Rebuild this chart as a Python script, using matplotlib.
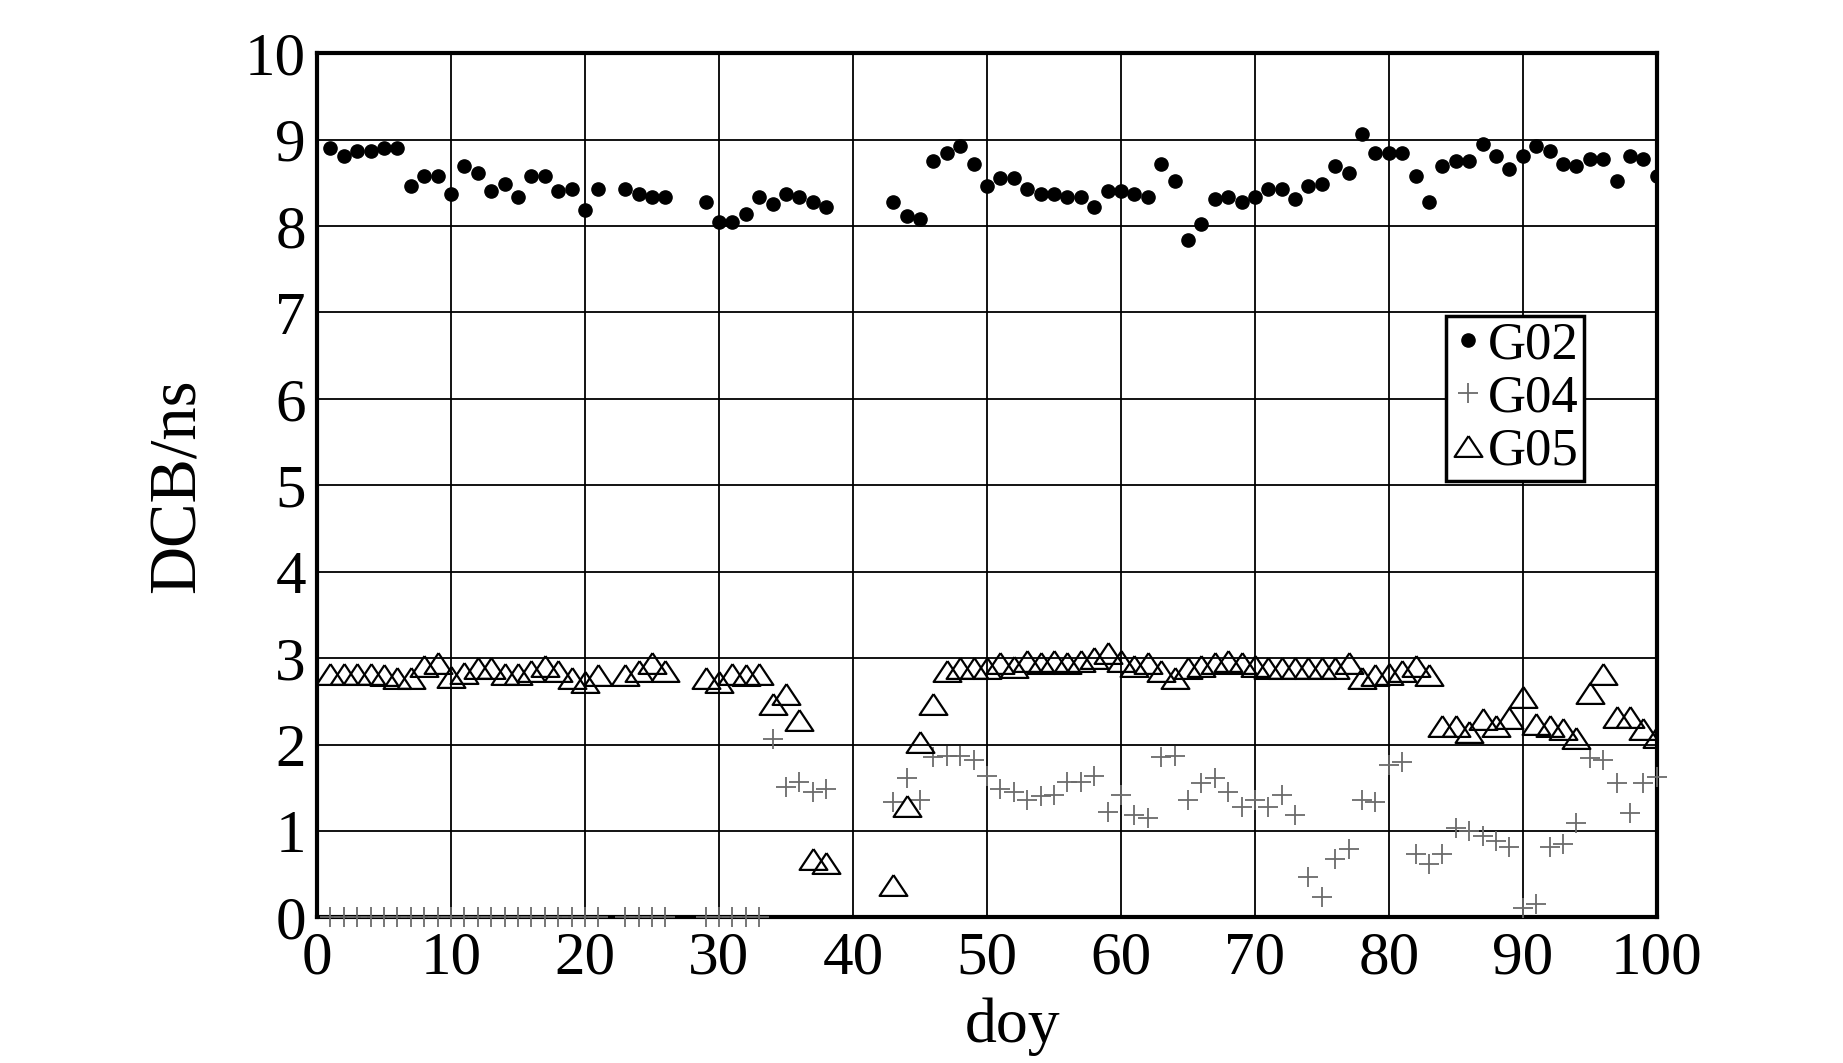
import numpy as np
import matplotlib
matplotlib.use("Agg")
import matplotlib.pyplot as plt

plt.rcParams['font.family'] = ['Liberation Serif', 'DejaVu Serif']

days = list(range(1, 22)) + list(range(23, 27)) + list(range(29, 39)) + list(range(43, 101))

g02 = [8.90, 8.81, 8.87, 8.87, 8.90, 8.90, 8.46, 8.58, 8.58, 8.37,
       8.69, 8.61, 8.40, 8.49, 8.34, 8.58, 8.58, 8.40, 8.43, 8.19, 8.43,
       8.43, 8.37, 8.34, 8.34,
       8.28, 8.05, 8.05, 8.14, 8.34, 8.25, 8.37, 8.34, 8.28, 8.22,
       8.28, 8.11, 8.08, 8.75, 8.84, 8.92, 8.72, 8.46, 8.55, 8.55,
       8.43, 8.37, 8.37, 8.34, 8.34, 8.22, 8.40, 8.40, 8.37, 8.34,
       8.72, 8.52, 7.84, 8.02, 8.31, 8.34, 8.28, 8.34, 8.43, 8.43,
       8.31, 8.46, 8.49, 8.69, 8.61, 9.07, 8.84, 8.84, 8.84, 8.58,
       8.28, 8.69, 8.75, 8.75, 8.95, 8.81, 8.66, 8.81, 8.92, 8.87,
       8.72, 8.69, 8.78, 8.78, 8.52, 8.81, 8.78, 8.58]

g04 = [0.0] * 21 + [0.0] * 4 + [0.0] * 5 + \
      [2.06, 1.51, 1.57, 1.45, 1.48,
       1.33, 1.61, 1.36, 1.85, 1.87, 1.87, 1.82, 1.64, 1.48, 1.45,
       1.36, 1.40, 1.42, 1.57, 1.57, 1.64, 1.22, 1.42, 1.19, 1.15,
       1.85, 1.87, 1.36, 1.55, 1.61, 1.45, 1.28, 1.36, 1.28, 1.42,
       1.18, 0.47, 0.24, 0.68, 0.79, 1.36, 1.34, 1.76, 1.80, 0.73,
       0.62, 0.73, 1.03, 1.00, 0.94, 0.88, 0.82, 0.11, 0.15, 0.82,
       0.85, 1.09, 1.84, 1.82, 1.55, 1.21, 1.55, 1.63]

g05 = [2.82, 2.82, 2.82, 2.82, 2.80, 2.77, 2.77, 2.91, 2.94, 2.78,
       2.83, 2.88, 2.88, 2.82, 2.82, 2.85, 2.91, 2.85, 2.77, 2.72, 2.80,
       2.80, 2.85, 2.94, 2.85,
       2.77, 2.72, 2.82, 2.80, 2.82, 2.47, 2.58, 2.28, 0.67, 0.63,
       0.37, 1.29, 2.03, 2.47, 2.85, 2.88, 2.88, 2.88, 2.94, 2.90,
       2.97, 2.94, 2.97, 2.94, 2.97, 3.00, 3.06, 2.97, 2.91, 2.94,
       2.85, 2.77, 2.88, 2.91, 2.94, 2.97, 2.94, 2.91, 2.88, 2.88,
       2.88, 2.88, 2.88, 2.88, 2.94, 2.77, 2.80, 2.82, 2.85, 2.91,
       2.80, 2.21, 2.21, 2.14, 2.29, 2.21, 2.31, 2.55, 2.24, 2.21,
       2.18, 2.08, 2.60, 2.82, 2.32, 2.32, 2.18, 2.09]

xticks = list(range(0, 101, 10))
yticks = list(range(0, 11))

fig = plt.figure(figsize=(18.43, 10.63), dpi=100)
ax = fig.add_axes([0.172, 0.137, 0.727, 0.813])

tri = [(0, 0.75), (-1, -0.75), (1, -0.75), (0, 0.75)]

ax.plot(days, g02, linestyle='none', marker='o', markersize=9.5,
        color='black', label='G02', zorder=4)
ax.plot(days, g04, linestyle='none', marker='+', markersize=15,
        markeredgewidth=1.3, color='#6b6b6b', label='G04', zorder=3,
        clip_on=False)
ax.plot(days, g05, linestyle='none', marker=tri, markersize=20,
        markerfacecolor='none', markeredgecolor='black', markeredgewidth=1.6,
        label='G05', zorder=3)

ax.set_xlim(0, 100)
ax.set_ylim(0, 10)
ax.set_xticks(xticks)
ax.set_yticks(yticks)
ax.tick_params(axis='both', length=0, labelsize=44)
ax.tick_params(axis='x', pad=10)
ax.tick_params(axis='y', pad=8)
ax.grid(True, color='black', linewidth=1.3)
ax.set_axisbelow(True)
for s in ax.spines.values():
    s.set_linewidth(3)

ax.set_xlabel('doy', fontsize=46)
ax.xaxis.set_label_coords(0.519, -0.093)
ax.set_ylabel('DCB/ns', fontsize=48, labelpad=26)

leg = ax.legend(loc='upper left', bbox_to_anchor=(0.843, 0.696), fontsize=38,
                frameon=True, fancybox=False, handlelength=0.6,
                handletextpad=0.08, borderpad=0.1, labelspacing=0.1,
                borderaxespad=0)
leg.get_frame().set_edgecolor('black')
leg.get_frame().set_linewidth(2.5)
leg.get_frame().set_alpha(1)

fig.savefig('out.png', dpi=100)
